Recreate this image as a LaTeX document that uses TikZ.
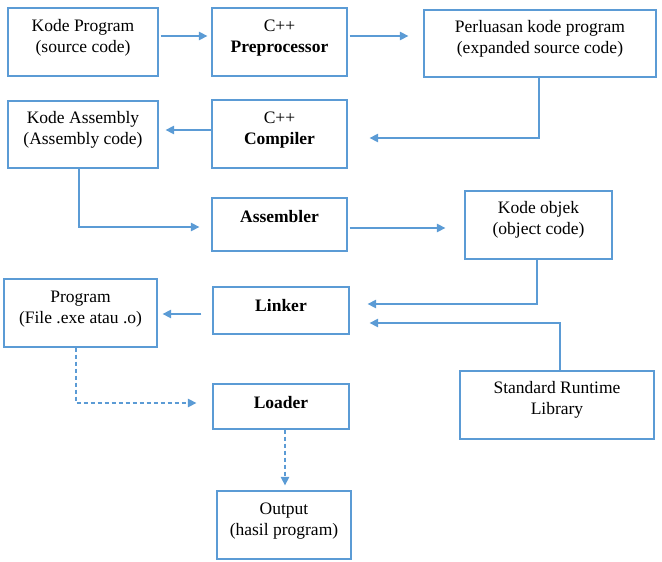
\documentclass[tikz,border=0pt]{standalone}
\usepackage{fontspec}
\setmainfont{Liberation Serif}
\usetikzlibrary{arrows.meta}
\definecolor{bblue}{HTML}{5B9BD5}
\tikzset{
  box/.style={draw=bblue, line width=1.3pt, rectangle, inner sep=0pt},
  txt/.style={align=center, inner sep=0pt, font=\fontsize{17.5}{21}\selectfont},
  arr/.style={draw=bblue, line width=1.3pt, -{Triangle[length=8.5pt,width=8.5pt]}},
  darr/.style={arr, dash pattern=on 4pt off 3pt}
}
\begin{document}
\begin{tikzpicture}[x=1pt,y=-1pt]
\useasboundingbox (0,0) rectangle (662,562);
% boxes
\node[box, minimum width=150pt, minimum height=68pt] (kp) at (83,42) {};
\node[box, minimum width=135pt, minimum height=68pt] (pp) at (279.5,42) {};
\node[box, minimum width=232pt, minimum height=67pt] (pe) at (540,43.5) {};
\node[box, minimum width=150pt, minimum height=67pt] (ka) at (83,134.5) {};
\node[box, minimum width=135pt, minimum height=68pt] (cc) at (279.5,134) {};
\node[box, minimum width=135pt, minimum height=53pt] (as) at (279.5,224.5) {};
\node[box, minimum width=147pt, minimum height=68pt] (ko) at (538.5,225) {};
\node[box, minimum width=153pt, minimum height=68pt] (pr) at (80.5,313) {};
\node[box, minimum width=136pt, minimum height=47pt] (lk) at (281,310.5) {};
\node[box, minimum width=194pt, minimum height=68pt] (sr) at (557,405) {};
\node[box, minimum width=136pt, minimum height=45pt] (ld) at (281,406.5) {};
\node[box, minimum width=134pt, minimum height=68pt] (op) at (284,525) {};
% texts
\node[txt] (kpt) at (83,38) {Kode Program\\(source code)};
\node[txt] (ppt) at (279.5,38) {C++\\\textbf{Preprocessor}};
\node[txt] (pet) at (540,39) {Perluasan kode program\\(expanded source code)};
\node[txt] (kat) at (83,130) {Kode Assembly\\(Assembly code)};
\node[txt] (cct) at (279.5,130) {C++\\\textbf{Compiler}};
\node[txt, anchor=base] (ast) at (279.5,222) {\textbf{Assembler}};
\node[txt] (kot) at (538.5,220) {Kode objek\\(object code)};
\node[txt] (prt) at (80.5,309) {Program\\(File .exe atau .o)};
\node[txt, anchor=base] (lkt) at (281,311) {\textbf{Linker}};
\node[txt] (srt) at (557,400) {Standard Runtime\\Library};
\node[txt, anchor=base] (ldt) at (281,408) {\textbf{Loader}};
\node[txt] (opt) at (284,521) {Output\\(hasil program)};
% connectors
\draw[arr] ([xshift=2pt,yshift=6pt]kp.east) -- ([xshift=-4pt,yshift=6pt]pp.west);
\draw[arr] ([xshift=2pt,yshift=6pt]pp.east) -- ([xshift=-15pt,yshift=7.5pt]pe.west);
\draw[arr] ([xshift=-1pt]pe.south) |- ([xshift=22pt,yshift=-4pt]cc.east);
\draw[arr] ([yshift=4pt]cc.west) -- ([xshift=7pt,yshift=4.5pt]ka.east);
\draw[arr] ([xshift=-4pt]ka.south) |- ([xshift=-12pt,yshift=-2.5pt]as.west);
\draw[arr] ([xshift=2pt,yshift=-3.5pt]as.east) -- ([xshift=-19pt,yshift=-3pt]ko.west);
\draw[arr] ([xshift=-1.5pt]ko.south) |- ([xshift=18pt,yshift=6.5pt]lk.east);
\draw[arr] ([xshift=-11pt,yshift=-3.5pt]lk.west) -- ([xshift=5pt,yshift=-1pt]pr.east);
\draw[arr] ([xshift=3pt]sr.north) |- ([xshift=20pt,yshift=-12.5pt]lk.east);
\draw[darr] ([xshift=-4.5pt]pr.south) |- ([xshift=-16pt,yshift=3.5pt]ld.west);
\draw[darr] ([xshift=4pt]ld.south) -- ([xshift=1pt,yshift=5pt]op.north);
\end{tikzpicture}
\end{document}
